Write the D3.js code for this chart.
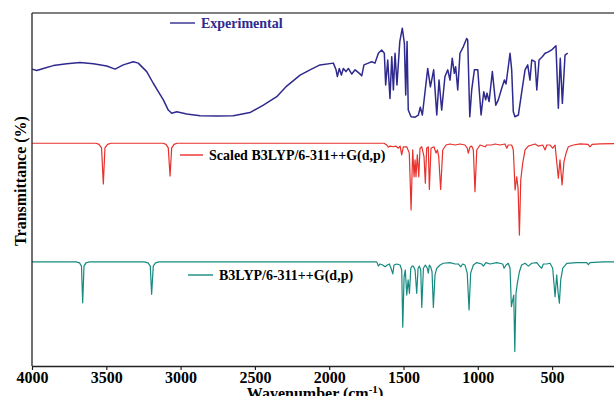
<!DOCTYPE html>
<html>
<head>
<meta charset="utf-8">
<script src="https://cdn.jsdelivr.net/npm/d3@7"></script>
<style>
  body { margin: 0; background: #fff; }
  svg text { font-family: "Liberation Serif", "Times New Roman", serif; font-weight: bold; }
</style>
</head>
<body>
<div id="chart"></div>
<script>
// x ticks (wavenumber, cm-1)
const xTicks = [4000, 3500, 3000, 2500, 2000, 1500, 1000, 500];

// series names, as in the legends
const seriesNames = ['Experimental', 'Scaled B3LYP/6-311++G(d,p)', 'B3LYP/6-311++G(d,p)'];

// [wavenumber, transmittance (arb. %, stacked)]
const experimental = [
  [4000,84.1],[3968,83.7],[3924,84.3],[3857,85.1],[3766,85.6],[3677,86.0],[3587,85.6],[3497,85.0],
  [3441,84.1],[3386,85.3],[3318,86.2],[3285,85.8],[3228,83.4],[3184,80.1],[3150,77.7],[3116,75.4],
  [3083,72.5],[3060,71.6],[3026,72.0],[2959,71.4],[2869,70.9],[2757,70.8],[2645,70.9],[2533,71.8],
  [2443,73.9],[2353,76.3],[2286,79.3],[2196,82.4],[2129,83.9],[2062,85.3],[1972,85.8],[1954,83.9],
  [1945,82.0],[1932,84.3],[1918,82.4],[1905,84.3],[1887,83.4],[1871,84.3],[1848,82.7],[1826,83.9],
  [1797,82.9],[1781,82.2],[1766,85.3],[1737,85.8],[1714,86.2],[1692,85.8],[1669,88.6],[1647,89.5],
  [1629,88.6],[1620,79.6],[1606,86.7],[1591,75.8],[1579,87.6],[1568,78.2],[1557,88.6],[1544,79.6],
  [1525,91.9],[1508,95.7],[1494,91.4],[1485,76.8],[1476,91.9],[1468,72.5],[1449,70.6],[1422,70.5],
  [1400,71.1],[1387,73.3],[1373,71.1],[1337,84.3],[1319,79.1],[1297,83.9],[1276,71.1],[1261,81.0],
  [1243,72.5],[1221,82.0],[1202,83.9],[1187,81.0],[1172,87.2],[1158,82.9],[1149,84.8],[1135,78.2],
  [1120,88.6],[1097,90.5],[1075,92.8],[1068,92.4],[1054,70.6],[1041,78.2],[1023,83.9],[1000,83.9],
  [992,79.1],[978,71.1],[960,77.7],[947,75.4],[938,77.3],[924,74.9],[902,83.4],[879,73.9],
  [862,75.4],[839,78.7],[821,81.0],[810,79.9],[783,88.6],[772,83.9],[761,72.0],[750,70.6],
  [727,71.1],[709,76.3],[682,83.9],[664,85.3],[649,81.0],[637,86.7],[615,86.2],[603,78.2],
  [588,86.7],[566,87.6],[547,88.6],[525,89.0],[498,89.7],[480,90.5],[474,90.7],[458,73.0],
  [445,87.2],[431,74.4],[413,88.1],[395,88.6]
];

const scaledB3LYP = [
  [4000,63.1],[3569,63.1],[3549,62.8],[3532,61.8],[3520,51.6],[3509,61.8],[3492,62.8],[3468,63.1],
  [3118,63.1],[3098,62.8],[3083,61.8],[3071,53.8],[3060,61.8],[3044,62.8],[3024,63.1],[1631,63.1],
  [1613,62.6],[1602,62.0],[1591,62.3],[1568,62.1],[1550,62.3],[1535,61.7],[1523,62.3],[1512,59.8],
  [1501,62.1],[1478,62.1],[1461,60.3],[1449,44.2],[1438,61.2],[1429,53.6],[1422,58.4],[1416,53.6],
  [1407,59.8],[1397,53.6],[1389,61.7],[1377,62.1],[1362,59.3],[1353,51.8],[1344,61.7],[1333,62.1],
  [1326,50.0],[1315,61.7],[1295,62.1],[1281,60.3],[1272,61.2],[1263,59.3],[1250,50.0],[1236,61.2],
  [1214,62.6],[1187,62.9],[1153,62.6],[1120,62.9],[1086,62.6],[1071,61.7],[1064,60.3],[1052,62.1],
  [1041,62.3],[1030,61.2],[1019,49.4],[1007,61.2],[985,62.6],[951,62.1],[940,62.6],[906,62.6],
  [884,62.9],[850,62.6],[817,62.9],[805,61.7],[795,62.6],[772,62.6],[761,61.2],[749,49.9],
  [738,53.6],[729,50.3],[720,37.1],[711,52.7],[698,57.4],[682,61.2],[660,62.3],[637,62.6],
  [615,62.9],[593,62.3],[563,62.6],[547,61.2],[536,62.6],[514,62.6],[496,61.7],[480,62.6],
  [458,53.2],[447,58.4],[433,51.3],[420,57.9],[406,60.3],[391,62.1],[357,62.6],[312,62.9],
  [258,62.8],[245,62.1],[231,62.8],[177,62.9],[83,63.0],[0,63.0]
];

const b3lyp = [
  [4000,29.5],[3704,29.5],[3680,29.2],[3667,28.3],[3659,17.9],[3650,28.3],[3637,29.2],[3613,29.5],
  [3246,29.5],[3219,29.2],[3204,28.3],[3195,20.3],[3184,28.3],[3169,29.2],[3145,29.5],[1725,29.5],
  [1680,29.5],[1669,28.3],[1658,28.9],[1640,28.6],[1624,28.1],[1609,28.6],[1595,28.9],[1584,27.7],
  [1572,26.1],[1564,28.6],[1546,28.9],[1523,28.6],[1512,27.2],[1505,11.0],[1496,25.3],[1488,27.2],
  [1478,20.1],[1469,24.4],[1460,20.6],[1451,27.7],[1442,28.3],[1434,28.3],[1422,27.2],[1411,20.6],
  [1402,27.7],[1393,28.3],[1384,27.2],[1377,16.6],[1366,27.7],[1353,28.6],[1340,27.7],[1333,26.3],
  [1326,28.6],[1317,28.1],[1308,26.7],[1299,16.6],[1288,25.8],[1276,27.7],[1254,28.6],[1232,29.1],
  [1187,29.3],[1153,28.9],[1131,28.9],[1115,28.1],[1102,28.9],[1086,28.6],[1071,26.3],[1059,15.9],
  [1048,26.3],[1030,28.6],[1007,29.3],[974,28.9],[963,28.3],[945,29.3],[918,28.9],[873,29.3],
  [832,28.9],[823,27.7],[810,28.6],[795,29.1],[783,27.7],[774,16.8],[765,18.7],[758,20.1],
  [751,4.1],[743,20.6],[734,23.4],[720,26.7],[705,28.6],[682,29.1],[660,28.3],[637,29.1],
  [603,29.3],[581,28.1],[570,27.7],[559,28.9],[536,28.9],[514,29.1],[496,27.7],[480,19.6],
  [469,25.8],[460,21.0],[451,17.8],[442,24.4],[428,27.7],[401,29.1],[334,29.3],[267,29.3],
  [256,28.7],[245,29.3],[155,29.5],[83,29.5],[0,29.5]
];

const colors = { exp: '#2f2a8e', scaled: '#e8302c', b3lyp: '#168a80' };

const width = 614, height = 396;
const margin = { left: 32, top: 13 };

const svg = d3.select('#chart').append('svg')
  .attr('width', width)
  .attr('height', height);

// axis runs on to 0 cm-1, just past the picture's right edge
const x = d3.scaleLinear().domain([4000, 0]).range([margin.left, 626.4]);
const y = d3.scaleLinear().domain([0, 100]).range([366, margin.top]);

const path = d3.line().x(d => x(d[0])).y(d => y(d[1]));

// spectra
[[b3lyp, colors.b3lyp, 1.2], [scaledB3LYP, colors.scaled, 1.2], [experimental, colors.exp, 1.5]].forEach(s => {
  svg.append('path')
    .datum(s[0])
    .attr('fill', 'none')
    .attr('stroke', s[1])
    .attr('stroke-width', s[2])
    .attr('stroke-linejoin', 'round')
    .attr('d', path);
});

// frame
svg.append('line').attr('x1', x(4000)).attr('x2', width).attr('y1', y(100)).attr('y2', y(100))
  .attr('stroke', '#555').attr('stroke-width', 1.3);
svg.append('line').attr('x1', x(4000)).attr('x2', x(4000)).attr('y1', y(100)).attr('y2', y(0))
  .attr('stroke', '#222').attr('stroke-width', 1.3);

// x axis
const xAxis = svg.append('g')
  .attr('transform', 'translate(0,' + y(0) + ')')
  .call(d3.axisBottom(x).tickValues(xTicks).tickFormat(d3.format('d'))
    .tickSize(4).tickSizeOuter(0).tickPadding(2));
xAxis.select('.domain').attr('stroke', '#222').attr('stroke-width', 1.3);
xAxis.selectAll('.tick line').attr('stroke', '#222').attr('stroke-width', 1.2);
xAxis.selectAll('text')
  .attr('fill', '#000')
  .style('font-size', '16px')
  .style('font-family', '"Liberation Serif", serif')
  .style('font-weight', 'bold');

// axis titles
const xt = svg.append('text')
  .attr('x', 315)
  .attr('y', 399)
  .attr('text-anchor', 'middle')
  .style('font-size', '16px')
  .attr('fill', '#000');
xt.append('tspan').text('Wavenumber (cm');
xt.append('tspan').attr('dy', -6).style('font-size', '11px').text('-1');
xt.append('tspan').attr('dy', 6).text(')');

svg.append('text')
  .attr('transform', 'translate(26,181) rotate(-90)')
  .attr('text-anchor', 'middle')
  .style('font-size', '16px')
  .attr('fill', '#000')
  .text('Transmittance (%)');

// legends
const legends = [
  { name: seriesNames[0], color: colors.exp, textColor: colors.exp, x1: 170, x2: 195, y: 23 },
  { name: seriesNames[1], color: colors.scaled, textColor: '#000', x1: 180, x2: 203, y: 155 },
  { name: seriesNames[2], color: colors.b3lyp, textColor: '#000', x1: 188, x2: 213, y: 275 }
];
legends.forEach(l => {
  svg.append('line')
    .attr('x1', l.x1).attr('x2', l.x2).attr('y1', l.y).attr('y2', l.y)
    .attr('stroke', l.color).attr('stroke-width', 1.4);
  svg.append('text')
    .attr('x', l.x2 + 6)
    .attr('y', l.y + 4.5)
    .style('font-size', '14px')
    .attr('fill', l.textColor)
    .text(l.name);
});
</script>
</body>
</html>
